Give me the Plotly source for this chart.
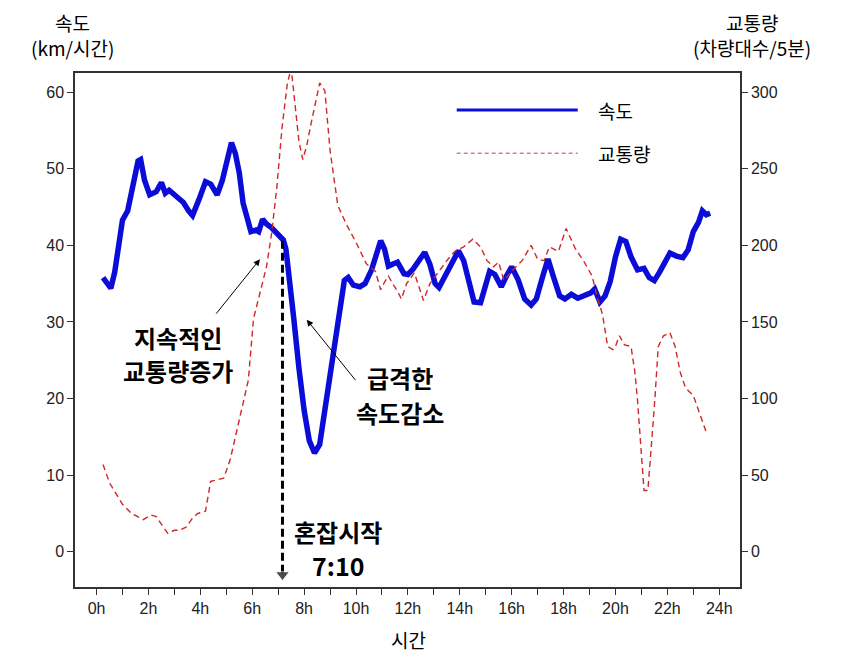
import plotly.graph_objects as go

# 속도 (km/시간)
speed_hours = [0.25, 0.4, 0.55, 0.7, 0.85, 1.0, 1.2, 1.4, 1.6, 1.7, 1.85, 2.05, 2.3, 2.5, 2.65, 2.8,
               3.1, 3.35, 3.55, 3.7, 3.95, 4.2, 4.4, 4.65, 4.85, 5.05, 5.2, 5.35, 5.5, 5.65, 5.8, 5.95,
               6.15, 6.25, 6.4, 6.55, 6.75, 6.95, 7.2, 7.3, 7.45, 7.6, 7.8, 8.0, 8.2, 8.4, 8.6, 8.8,
               9.0, 9.2, 9.4, 9.55, 9.7, 9.9, 10.15, 10.35, 10.6, 10.8, 10.95, 11.1, 11.25, 11.45,
               11.6, 11.85, 12.0, 12.2, 12.45, 12.65, 12.85, 13.05, 13.2, 13.5, 13.7, 13.95, 14.15,
               14.35, 14.55, 14.8, 15.0, 15.15, 15.35, 15.6, 15.8, 16.0, 16.25, 16.5, 16.75, 16.95,
               17.2, 17.4, 17.6, 17.85, 18.05, 18.3, 18.55, 18.8, 19.05, 19.2, 19.4, 19.6, 19.8, 20.0,
               20.2, 20.4, 20.6, 20.85, 21.1, 21.3, 21.5, 21.7, 21.95, 22.1, 22.35, 22.6, 22.8, 23.0,
               23.2, 23.35, 23.5, 23.65]
speed = [35.8, 35.0, 34.4, 36.5, 40.5, 43.3, 44.5, 47.5, 51.0, 51.2, 48.5, 46.6, 47.0, 48.2, 46.8, 47.2,
         46.3, 45.6, 44.5, 43.9, 46.0, 48.3, 48.0, 46.6, 48.5, 51.5, 53.4, 52.0, 49.5, 45.5, 43.5, 41.8,
         42.0, 41.8, 43.4, 42.8, 42.3, 41.5, 40.7, 39.5, 35.5, 30.5, 24.0, 18.5, 14.5, 12.9, 14.0, 18.5,
         23.5, 28.5, 33.0, 35.4, 35.8, 34.8, 34.6, 35.0, 36.8, 39.0, 40.6, 39.5, 37.3, 37.6,
         37.8, 36.3, 36.2, 36.9, 38.0, 39.1, 37.5, 35.0, 34.5, 36.3, 37.8, 39.3, 38.0,
         35.0, 32.6, 32.5, 35.0, 36.6, 36.2, 34.6, 36.0, 37.2, 35.5, 33.0, 32.2, 33.0,
         36.0, 38.2, 36.0, 33.4, 33.0, 33.6, 33.1, 33.4, 33.8, 34.3, 32.6, 33.4, 35.3, 38.5,
         40.8, 40.5, 38.5, 36.8, 37.0, 35.8, 35.4, 36.5, 38.2, 39.0, 38.6, 38.4, 39.4, 41.8,
         43.0, 44.5, 44.0, 44.2]

# 교통량 (차량대수/5분)
traffic_hours = [0.25, 0.5, 0.75, 1.0, 1.35, 1.55, 1.8, 2.1, 2.3, 2.5, 2.75, 3.0, 3.2, 3.45, 3.7, 3.9,
                 4.2, 4.4, 4.6, 4.9, 5.15, 5.35, 5.55, 5.7, 5.85, 6.05, 6.3, 6.55, 6.75, 6.95, 7.15,
                 7.35, 7.5, 7.65, 7.8, 7.95, 8.1, 8.25, 8.45, 8.6, 8.8, 9.0, 9.3, 9.65, 10.0, 10.4,
                 10.75, 10.95, 11.1, 11.25, 11.45, 11.6, 11.75, 11.95, 12.25, 12.45, 12.6, 12.85,
                 13.2, 13.5, 13.8, 14.15, 14.5, 14.8, 15.05, 15.3, 15.5, 15.7, 16.05, 16.4, 16.75,
                 17.0, 17.25, 17.45, 17.8, 18.1, 18.45, 18.8, 19.1, 19.3, 19.5, 19.7, 19.9, 20.0,
                 20.15, 20.35, 20.6, 20.75, 20.85, 20.95, 21.1, 21.25, 21.35, 21.5, 21.65, 21.85,
                 22.1, 22.3, 22.5, 22.7, 23.0, 23.25, 23.5]
traffic = [57, 45, 38, 31, 25, 23, 21, 24, 23, 18, 12, 14, 14, 16, 22, 25,
           26.5, 46, 47, 48, 60, 75, 90, 100, 112, 152, 170, 186, 208, 238, 277,
           305, 316, 292, 268, 256, 265, 278, 295, 306, 301, 262, 226, 213, 202, 188,
           183, 171, 176, 180, 174, 170, 165, 175, 182, 172, 164, 175,
           183, 190, 196, 199, 204, 199, 190, 186, 189, 177, 184, 190, 200,
           191, 190, 199, 196, 211, 198, 189, 180, 166, 155, 134, 132, 134,
           141, 135, 134, 117, 99, 73, 40, 40, 60, 95, 134, 141,
           143, 134, 117, 107, 102, 90, 78]

hour_ticks = list(range(0, 25))
hour_labels = [f"{h}h" if h % 2 == 0 else "" for h in hour_ticks]
speed_ticks = [0, 10, 20, 30, 40, 50, 60]
traffic_ticks = [0, 50, 100, 150, 200, 250, 300]

congestion_start = 7 + 10 / 60   # 7:10
congestion_speed = 40.6

KR = "Noto Sans CJK KR"
NUM = "Liberation Sans"
AXIS = "#333333"
BLUE = "#0c0cd8"

fig = go.Figure()

fig.add_trace(go.Scatter(
    x=traffic_hours, y=traffic, yaxis="y2", mode="lines",
    line=dict(color="#d02828", width=1.4, dash="6px,4px"),
    showlegend=False, hoverinfo="skip"
))
fig.add_trace(go.Scatter(
    x=speed_hours, y=speed, mode="lines",
    line=dict(color=BLUE, width=5.5),
    showlegend=False, hoverinfo="skip"
))
# 혼잡시작 dashed marker line
fig.add_trace(go.Scatter(
    x=[congestion_start, congestion_start], y=[congestion_speed, -3.0], mode="lines+markers",
    line=dict(color="black", width=3, dash="8px,4px"),
    marker=dict(symbol="triangle-down", size=[0, 12], color="black"),
    cliponaxis=False, showlegend=False, hoverinfo="skip"
))

annotations = []
def text(x, y, s, size=24, bold=True, xref="x", yref="y", xanchor="center", family=KR):
    annotations.append(dict(
        x=x, y=y, xref=xref, yref=yref, text=f"<b>{s}</b>" if bold else s,
        showarrow=False, xanchor=xanchor, yanchor="middle",
        font=dict(family=family, size=size, color="black")
    ))

text(3.15, 28.0, "지속적인")
text(3.15, 23.6, "교통량증가")
text(11.7, 22.8, "급격한")
text(11.7, 18.2, "속도감소")
text(9.3, 2.6, "혼잡시작")
text(9.3, -1.7, "7:10", size=25)

# arrows
annotations.append(dict(x=6.30, y=38.2, xref="x", yref="y", ax=-45, ay=56, text="",
                        showarrow=True, arrowhead=2, arrowsize=1.3, arrowwidth=1, arrowcolor="black"))
annotations.append(dict(x=8.10, y=30.3, xref="x", yref="y", ax=50, ay=62, text="",
                        showarrow=True, arrowhead=2, arrowsize=1.3, arrowwidth=1, arrowcolor="black"))

# axis titles
text(-0.0045, 1.099, "속도", size=19, bold=False, xref="paper", yref="paper")
text(-0.0045, 1.049, "(km/시간)", size=19, bold=False, xref="paper", yref="paper")
text(1.018, 1.099, "교통량", size=19, bold=False, xref="paper", yref="paper")
text(1.018, 1.049, "(차량대수/5분)", size=19, bold=False, xref="paper", yref="paper")
text(0.501, -0.103, "시간", size=19, bold=False, xref="paper", yref="paper")

# legend
text(0.783, 0.928, "속도", size=19, bold=False, xref="paper", yref="paper", xanchor="left")
text(0.783, 0.844, "교통량", size=19, bold=False, xref="paper", yref="paper", xanchor="left")
shapes = [
    dict(type="line", xref="paper", yref="paper", x0=0.574, x1=0.756, y0=0.928, y1=0.928,
         line=dict(color=BLUE, width=3)),
    dict(type="line", xref="paper", yref="paper", x0=0.574, x1=0.756, y0=0.844, y1=0.844,
         line=dict(color="#c04040", width=1, dash="4px,3px")),
]

# page body adds an 8px offset, so the figure is 8px smaller and margins shifted
fig.update_layout(
    width=846, height=660,
    margin=dict(l=67, r=114, t=65, b=81),
    paper_bgcolor="white", plot_bgcolor="white",
    font=dict(family=NUM, size=16, color="#222222"),
    annotations=annotations, shapes=shapes,
    xaxis=dict(
        range=[-0.83, 24.8], tickvals=hour_ticks, ticktext=hour_labels,
        ticks="outside", ticklen=6, tickcolor=AXIS, showline=True, linecolor=AXIS, linewidth=1.5,
        mirror=True, showgrid=False, zeroline=False, tickfont=dict(size=16)
    ),
    yaxis=dict(
        range=[-4.6, 62.5], tickvals=speed_ticks, ticks="outside", ticklen=6, tickcolor=AXIS,
        showline=True, linecolor=AXIS, linewidth=1.5, showgrid=False, zeroline=False,
        tickfont=dict(size=16)
    ),
    yaxis2=dict(
        range=[-23, 312.5], tickvals=traffic_ticks, overlaying="y", side="right",
        ticks="outside", ticklen=6, tickcolor=AXIS, showline=True, linecolor=AXIS, linewidth=1.5,
        showgrid=False, zeroline=False, tickfont=dict(size=16)
    ),
)

fig.write_html("out.html")
